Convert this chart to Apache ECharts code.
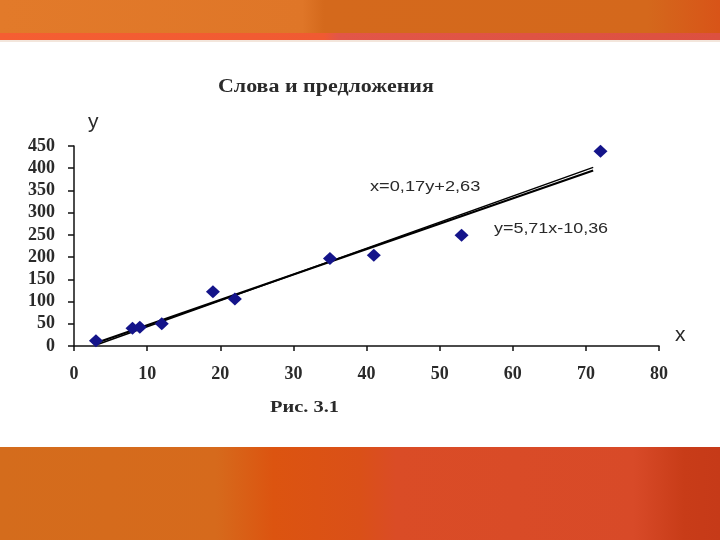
<!DOCTYPE html>
<html><head><meta charset="utf-8">
<script src="https://cdn.jsdelivr.net/npm/echarts@6/dist/echarts.min.js"></script>
<style>html,body{margin:0;padding:0;background:#fff}#c{width:720px;height:540px}</style>
</head><body><div id="c"></div>
<script>
// Data
const xValues = [3, 8, 9, 12, 19, 22, 35, 41, 53, 72];
const yValues = [12, 40, 42, 50, 122, 106, 197, 204, 249, 438];
// Trend lines (endpoints along the drawn lines)
const trendYonX = [[3, 6.8], [71, 395]];      // y=5,71x-10,36
const trendXonY = [[3.3, 4], [71, 402]];      // x=0,17y+2,63
const xTicks = [0, 10, 20, 30, 40, 50, 60, 70, 80];
const yTicks = [0, 50, 100, 150, 200, 250, 300, 350, 400, 450];
const titleText = 'Слова и предложения';
const captionText = 'Рис. 3.1';
const eq1 = 'x=0,17y+2,63';
const eq2 = 'y=5,71x-10,36';

const chart = echarts.init(document.getElementById('c'));
const pts = xValues.map((x, i) => [x, yValues[i]]);
const serif = 'Liberation Serif';
const txt = (x, y, text, font, sx) => ({type: 'text', x: x, y: y, scaleX: sx || 1,
  style: {text: text, font: font, fill: '#2a2a2a', textVerticalAlign: 'top'}});
chart.setOption({
  animation: false,
  backgroundColor: '#ffffff',
  graphic: [
    {type: 'rect', z: -10, shape: {x: 0, y: 0, width: 720, height: 33},
     style: {fill: new echarts.graphic.LinearGradient(0, 0, 1, 0, [
       {offset: 0, color: '#E27A2A'}, {offset: 0.42, color: '#DF7628'},
       {offset: 0.45, color: '#D4691C'}, {offset: 0.9, color: '#D4681C'}, {offset: 1, color: '#D85418'}])}},
    {type: 'rect', z: -10, shape: {x: 0, y: 33, width: 720, height: 7},
     style: {fill: new echarts.graphic.LinearGradient(0, 0, 1, 0, [
       {offset: 0, color: '#F55E32'}, {offset: 0.45, color: '#F05A32'},
       {offset: 0.47, color: '#E25648'}, {offset: 1, color: '#DC5040'}])}},
    {type: 'rect', z: -10, shape: {x: 0, y: 40, width: 720, height: 2}, style: {fill: '#F3E6DC'}},
    {type: 'rect', z: -10, shape: {x: 0, y: 447, width: 720, height: 93},
     style: {fill: new echarts.graphic.LinearGradient(0, 0, 1, 0, [
       {offset: 0, color: '#D46C1C'}, {offset: 0.3, color: '#D66A1C'},
       {offset: 0.38, color: '#DC5410'}, {offset: 0.5, color: '#DA5018'},
       {offset: 0.55, color: '#DA4C26'}, {offset: 0.88, color: '#D84A28'}, {offset: 0.95, color: '#C83C18'}, {offset: 1, color: '#C63A18'}])}},
    txt(218, 78, titleText, 'bold 18px "Liberation Serif"', 1.22),
    txt(88, 112, 'y', '21px "Liberation Sans"'),
    txt(675, 325, 'x', '21px "Liberation Sans"'),
    txt(370, 180, eq1, '14px "Liberation Sans"', 1.3),
    txt(494, 222, eq2, '14px "Liberation Sans"', 1.28),
    txt(270, 399, captionText, 'bold 17px "Liberation Serif"', 1.2)
  ],
  grid: {left: 74, right: 61, top: 146, bottom: 194, containLabel: false},
  xAxis: {
    type: 'value', min: 0, max: 80, interval: 10,
    splitLine: {show: false},
    axisLine: {show: true, onZero: false, lineStyle: {color: '#111', width: 1.5}},
    axisTick: {show: true, length: 5, lineStyle: {color: '#111', width: 1.5}},
    axisLabel: {fontFamily: serif, fontSize: 18, fontWeight: 'bold', color: '#2a2a2a', margin: 19,
      formatter: v => xTicks.includes(v) ? String(v) : ''}
  },
  yAxis: {
    type: 'value', min: 0, max: 450, interval: 50,
    splitLine: {show: false},
    axisLine: {show: true, onZero: false, lineStyle: {color: '#111', width: 1.5}},
    axisTick: {show: true, length: 6, lineStyle: {color: '#111', width: 1.5}},
    axisLabel: {fontFamily: serif, fontSize: 18, fontWeight: 'bold', color: '#2a2a2a', margin: 19,
      formatter: v => yTicks.includes(v) ? String(v) : ''}
  },
  series: [
    {type: 'line', data: trendYonX, symbol: 'none', lineStyle: {color: '#000', width: 2}, z: 2},
    {type: 'line', data: trendXonY, symbol: 'none', lineStyle: {color: '#000', width: 1.5}, z: 2},
    {type: 'scatter', data: pts, symbol: 'diamond', symbolSize: [14, 13],
     itemStyle: {color: '#14148A', opacity: 1}, z: 3}
  ]
});
</script></body></html>
